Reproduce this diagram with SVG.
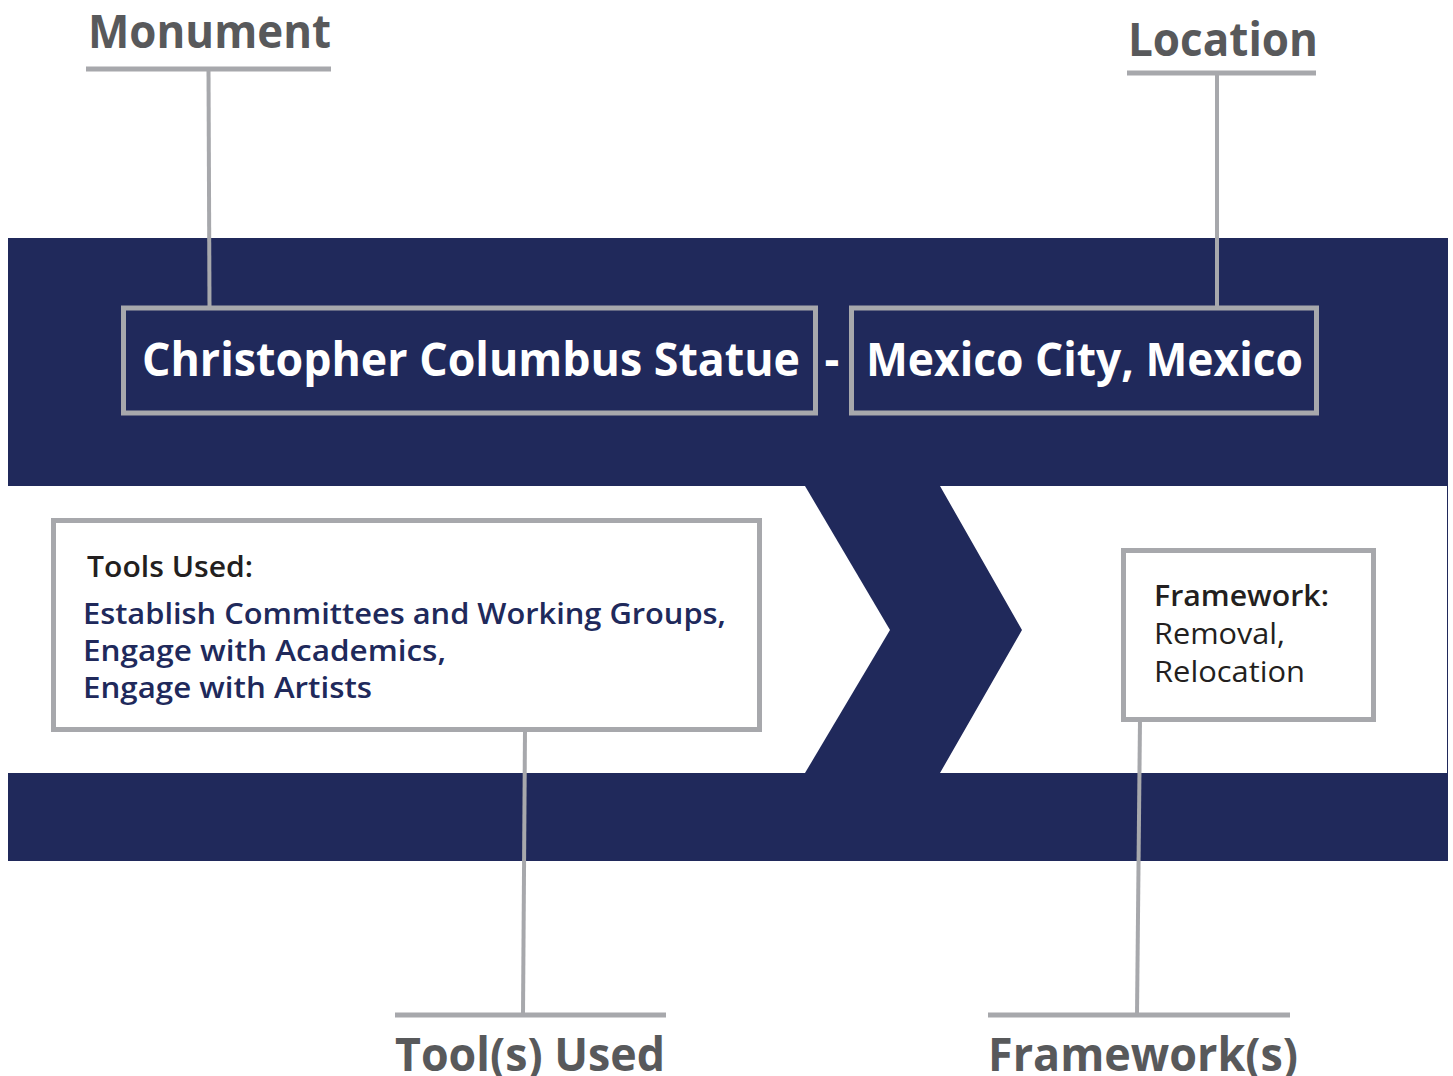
<svg xmlns="http://www.w3.org/2000/svg" width="1453" height="1076" viewBox="0 0 1453 1076">
<style>
.navy{fill:#20295b}
.white{fill:#ffffff}
.conn{stroke:#a7a8ac;stroke-width:4;fill:none}
.uline{stroke:#a7a8ac;stroke-width:5;fill:none}
.boxd{fill:#20295b;stroke:#a7a8ac;stroke-width:5}
.boxw{fill:#ffffff;stroke:#a7a8ac;stroke-width:5}
.title{font-family:"Open Sans","Liberation Sans",sans-serif;font-weight:700;font-size:46px;fill:#58595b}
.big{font-family:"Open Sans","Liberation Sans",sans-serif;font-weight:700;font-size:46px;fill:#ffffff}
.hd{font-family:"Open Sans","Liberation Sans",sans-serif;font-weight:600;font-size:29px;fill:#231f20}
.tl{font-family:"Open Sans","Liberation Sans",sans-serif;font-weight:600;font-size:29px;fill:#20295b}
.lt{font-family:"Open Sans","Liberation Sans",sans-serif;font-weight:400;font-size:29px;fill:#231f20}
</style>
<rect width="1453" height="1076" fill="#ffffff"/>
<g id="background">
<rect class="navy" x="8" y="238" width="1440" height="623"/>
<polygon class="white" points="8,486 805,486 890,630 805,773 8,773"/>
<polygon class="white" points="940,486 1447,486 1447,773 940,773 1022,630"/>
</g>
<g id="connectors">
<line class="uline" x1="86" y1="69" x2="331" y2="69"/>
<line class="conn" x1="208.5" y1="69" x2="209.5" y2="307"/>
<line class="uline" x1="1127" y1="73" x2="1316" y2="73"/>
<line class="conn" x1="1217" y1="73" x2="1217" y2="307"/>
<line class="conn" x1="525" y1="730" x2="523" y2="1015"/>
<line class="uline" x1="395" y1="1015" x2="666" y2="1015"/>
<line class="conn" x1="1140" y1="719" x2="1137" y2="1015"/>
<line class="uline" x1="988" y1="1015" x2="1290" y2="1015"/>
</g>
<g id="monument-label">
<text class="title" x="88" y="48" textLength="243" lengthAdjust="spacingAndGlyphs">Monument</text>
</g>
<g id="location-label">
<text class="title" x="1128" y="56" textLength="190" lengthAdjust="spacingAndGlyphs">Location</text>
</g>
<g id="monument-node">
<rect class="boxd" x="123.5" y="308" width="692" height="105"/>
<text class="big" x="142" y="376" textLength="658" lengthAdjust="spacingAndGlyphs">Christopher Columbus Statue</text>
</g>
<g id="dash">
<text class="big" x="832" y="376" text-anchor="middle">-</text>
</g>
<g id="location-node">
<rect class="boxd" x="851.5" y="308" width="465" height="105"/>
<text class="big" x="866" y="376" textLength="437" lengthAdjust="spacingAndGlyphs">Mexico City, Mexico</text>
</g>
<g id="tools-node">
<rect class="boxw" x="53.5" y="520.5" width="706" height="209"/>
<text class="hd" x="87" y="577" textLength="166" lengthAdjust="spacingAndGlyphs">Tools Used:</text>
<text class="tl" x="83" y="624" textLength="643" lengthAdjust="spacingAndGlyphs">Establish Committees and Working Groups,</text>
<text class="tl" x="83" y="661" textLength="363" lengthAdjust="spacingAndGlyphs">Engage with Academics,</text>
<text class="tl" x="83" y="698" textLength="289" lengthAdjust="spacingAndGlyphs">Engage with Artists</text>
</g>
<g id="framework-node">
<rect class="boxw" x="1123.5" y="550.5" width="250" height="169"/>
<text class="hd" x="1154" y="606" textLength="175" lengthAdjust="spacingAndGlyphs">Framework:</text>
<text class="lt" x="1154" y="644" textLength="131" lengthAdjust="spacingAndGlyphs">Removal,</text>
<text class="lt" x="1154" y="682" textLength="151" lengthAdjust="spacingAndGlyphs">Relocation</text>
</g>
<g id="tools-label">
<text class="title" x="395" y="1071" textLength="270" lengthAdjust="spacingAndGlyphs">Tool(s) Used</text>
</g>
<g id="framework-label">
<text class="title" x="988" y="1071" textLength="310" lengthAdjust="spacingAndGlyphs">Framework(s)</text>
</g>
</svg>
